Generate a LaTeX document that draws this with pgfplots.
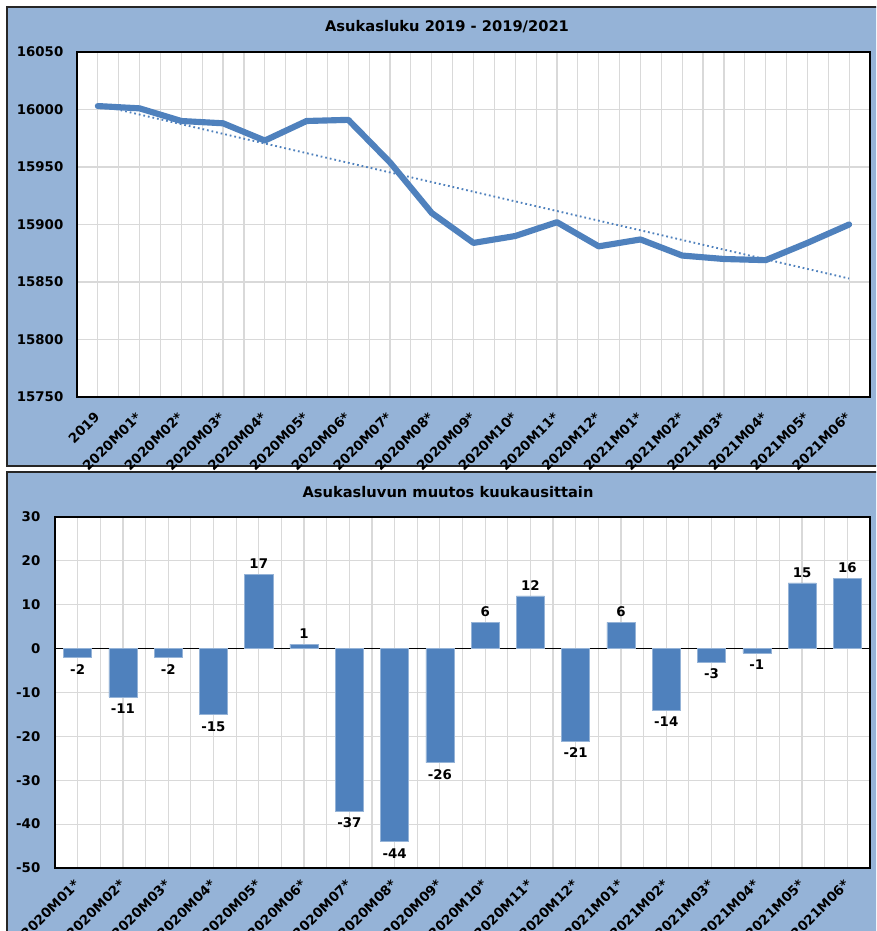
\documentclass[border=0pt]{standalone}
\usepackage{fontspec}
\setmainfont{DejaVu Sans}
\usepackage{pgfplots}
\pgfplotsset{compat=1.18}
\definecolor{panelblue}{HTML}{95B3D7}
\definecolor{serblue}{HTML}{4F81BD}
\definecolor{gridgray}{HTML}{D9D9D9}
\newcommand{\tfont}{\bfseries\fontsize{10}{11}\selectfont}
\begin{document}
\begin{tikzpicture}
\useasboundingbox (0,0) rectangle (657pt,-698.25pt);
\clip (0,0) rectangle (657pt,-698.25pt);
\fill[white] (0,0) rectangle (657pt,-698.25pt);
% panels
\filldraw[fill=panelblue, draw=black!85, line width=1.3pt] ({7*0.75pt},{-7*0.75pt}) rectangle ({890*0.75pt},{-466*0.75pt});
\filldraw[fill=panelblue, draw=black!85, line width=1.3pt] ({7*0.75pt},{-472*0.75pt}) rectangle ({890*0.75pt},{-950*0.75pt});
\node[font=\bfseries\fontsize{11}{13}\selectfont] at ({447*0.75pt},{-27*0.75pt}) {Asukasluku 2019 - 2019/2021};
\node[font=\bfseries\fontsize{11}{13}\selectfont] at ({448*0.75pt},{-492*0.75pt}) {Asukasluvun muutos kuukausittain};

% top chart
\begin{axis}[
  at={({77*0.75pt},{-52*0.75pt})}, anchor=north west,
  scale only axis, width={793*0.75pt}, height={345*0.75pt},
  xmin=-0.5, xmax=18.5, ymin=15750, ymax=16050,
  scaled y ticks=false,
  xtick={0,...,18},
  xticklabels={2019,2020M01*,2020M02*,2020M03*,2020M04*,2020M05*,2020M06*,2020M07*,2020M08*,2020M09*,2020M10*,2020M11*,2020M12*,2021M01*,2021M02*,2021M03*,2021M04*,2021M05*,2021M06*},
  minor x tick num=1,
  ytick={15750,15800,15850,15900,15950,16000,16050},
  yticklabels={15750,15800,15850,15900,15950,16000,16050},
  grid=both,
  major grid style={draw=gridgray, line width=0.9pt},
  minor grid style={draw=gridgray, line width=0.9pt},
  axis line style={draw=black, line width=1pt},
  tick style={draw=none},
  axis background/.style={fill=white},
  ticklabel style={font=\tfont},
  yticklabel style={xshift=-6.75pt},
  xticklabel style={xshift=1.8pt, yshift=-10.8pt, rotate=45, anchor=east},
]
\addplot[serblue, line width=1.4pt, dash pattern=on 1.3pt off 2.2pt] coordinates {(0,16004) (18,15853)};
\addplot[serblue, line width=4.6pt, line join=round, line cap=round] coordinates {
(0,16003) (1,16001) (2,15990) (3,15988) (4,15973) (5,15990) (6,15991) (7,15954) (8,15910) (9,15884) (10,15890) (11,15902) (12,15881) (13,15887) (14,15873) (15,15870) (16,15869) (17,15884) (18,15900)};
\end{axis}

% bottom chart
\begin{axis}[
  at={({55*0.75pt},{-517*0.75pt})}, anchor=north west,
  scale only axis, width={815*0.75pt}, height={351*0.75pt},
  xmin=-0.5, xmax=17.5, ymin=-50, ymax=30,
  xtick={0,...,17},
  xticklabels={2020M01*,2020M02*,2020M03*,2020M04*,2020M05*,2020M06*,2020M07*,2020M08*,2020M09*,2020M10*,2020M11*,2020M12*,2021M01*,2021M02*,2021M03*,2021M04*,2021M05*,2021M06*},
  minor x tick num=1,
  ytick={-50,-40,-30,-20,-10,0,10,20,30},
  yticklabels={-50,-40,-30,-20,-10,0,10,20,30},
  grid=both,
  major grid style={draw=gridgray, line width=0.9pt},
  minor grid style={draw=gridgray, line width=0.9pt},
  axis line style={draw=black, line width=1pt},
  tick style={draw=none},
  axis background/.style={fill=white},
  ticklabel style={font=\tfont},
  yticklabel style={xshift=-7.5pt},
  xticklabel style={xshift=2pt, yshift=-4pt, rotate=45, anchor=east},
  ybar, bar width=0.62,
  extra y ticks={0}, extra y tick labels={},
  extra y tick style={grid=major, major grid style={draw=black, line width=1pt}},
]
\addplot[fill=serblue, draw=serblue!60!white, line width=0.4pt, bar shift=0pt,
  nodes near coords, point meta=explicit symbolic,
  every node near coord/.append style={font=\tfont, black, anchor=south, inner sep=4pt}]
coordinates {
(4,17)[17] (5,1)[1] (9,6)[6] (10,12)[12] (12,6)[6] (16,15)[15] (17,16)[16]};
\addplot[fill=serblue, draw=serblue!60!white, line width=0.4pt, bar shift=0pt,
  nodes near coords, point meta=explicit symbolic,
  every node near coord/.append style={font=\tfont, black, anchor=north, inner sep=5pt}]
coordinates {
(0,-2)[-2] (1,-11)[-11] (2,-2)[-2] (3,-15)[-15] (6,-37)[-37] (7,-44)[-44] (8,-26)[-26] (11,-21)[-21] (13,-14)[-14] (14,-3)[-3] (15,-1)[-1]};
\end{axis}
\end{tikzpicture}
\end{document}
